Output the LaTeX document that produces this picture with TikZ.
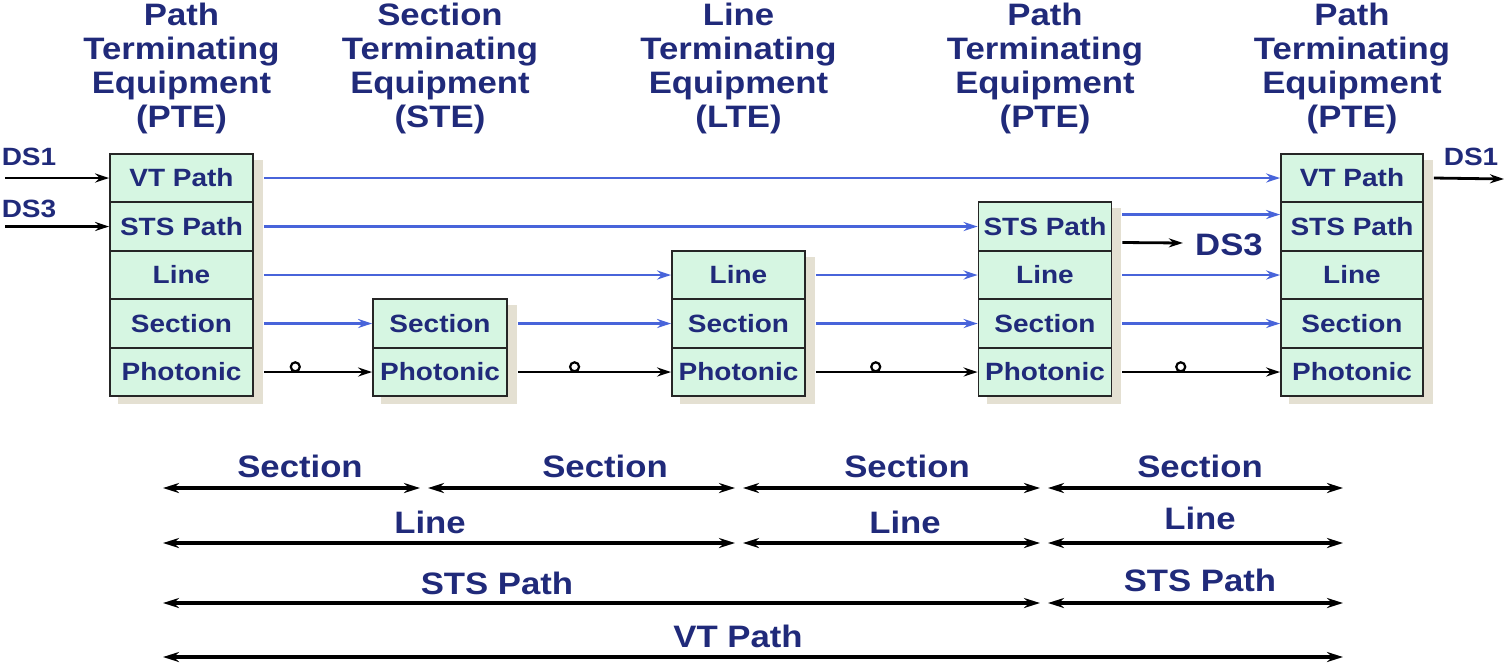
\documentclass[tikz,border=0pt]{standalone}
\usepackage{fontspec}
\setmainfont{Liberation Sans}[FakeStretch=1.12]
\usetikzlibrary{arrows.meta,backgrounds}
\definecolor{navy}{RGB}{32,42,122}
\definecolor{mint}{RGB}{214,246,226}
\definecolor{lineblue}{RGB}{72,100,218}
\definecolor{shadowc}{RGB}{228,224,210}
\begin{document}
\begin{tikzpicture}[x=0.5pt,y=-0.5pt,
 layer/.style={draw=black!85, line width=0.9pt, fill=mint, minimum height=24.25pt, inner sep=0pt, text=navy, font=\bfseries\fontsize{12.5}{14}\selectfont},
 title/.style={align=center, text=navy, font=\bfseries\fontsize{15.5}{17}\selectfont},
 lbl/.style={text=navy, font=\bfseries\fontsize{15.5}{17}\selectfont},
 dslbl/.style={text=navy, inner sep=2pt, font=\bfseries\fontsize{12.5}{14}\selectfont},
 blu/.style={draw=lineblue, line width=1.4pt, -{Stealth[length=7pt,width=4.5pt]}},
 blk/.style={draw=black, line width=1.4pt, -{Stealth[length=7pt,width=4.5pt]}},
 span/.style={draw=black, line width=1.6pt, {Stealth[length=8pt,width=5pt]}-{Stealth[length=8pt,width=5pt]}},
 ring/.style={circle, draw=black, line width=1.1pt, fill=white, inner sep=0pt, minimum size=4.5pt}
]
\useasboundingbox (0,0) rectangle (1504,666);

% titles
\node[title] (t1) at (181.5,68) {Path\\Terminating\\Equipment\\(PTE)};
\node[title] (t2) at (440,68) {Section\\Terminating\\Equipment\\(STE)};
\node[title] (t3) at (738.5,68) {Line\\Terminating\\Equipment\\(LTE)};
\node[title] (t4) at (1045,68) {Path\\Terminating\\Equipment\\(PTE)};
\node[title] (t5) at (1352,68) {Path\\Terminating\\Equipment\\(PTE)};

% box 1
\node[layer, minimum width=71.5pt] (a1) at (181.5,178) {VT Path};
\node[layer, minimum width=71.5pt] (a2) at (181.5,226.5) {STS Path};
\node[layer, minimum width=71.5pt] (a3) at (181.5,275) {Line};
\node[layer, minimum width=71.5pt] (a4) at (181.5,323.5) {Section};
\node[layer, minimum width=71.5pt] (a5) at (181.5,372) {Photonic};
% box 2
\node[layer, minimum width=67pt] (b4) at (440,323.5) {Section};
\node[layer, minimum width=67pt] (b5) at (440,372) {Photonic};
% box 3
\node[layer, minimum width=66.5pt] (c3) at (738.5,275) {Line};
\node[layer, minimum width=66.5pt] (c4) at (738.5,323.5) {Section};
\node[layer, minimum width=66.5pt] (c5) at (738.5,372) {Photonic};
% box 4
\node[layer, minimum width=66.5pt] (d2) at (1045,226.5) {STS Path};
\node[layer, minimum width=66.5pt] (d3) at (1045,275) {Line};
\node[layer, minimum width=66.5pt] (d4) at (1045,323.5) {Section};
\node[layer, minimum width=66.5pt] (d5) at (1045,372) {Photonic};
% box 5
\node[layer, minimum width=71pt] (e1) at (1352,178) {VT Path};
\node[layer, minimum width=71pt] (e2) at (1352,226.5) {STS Path};
\node[layer, minimum width=71pt] (e3) at (1352,275) {Line};
\node[layer, minimum width=71pt] (e4) at (1352,323.5) {Section};
\node[layer, minimum width=71pt] (e5) at (1352,372) {Photonic};

\begin{scope}[on background layer]
\fill[shadowc] ([shift={(9,7)}]a1.north west) rectangle ([shift={(9,7)}]a5.south east);
\fill[shadowc] ([shift={(9,7)}]b4.north west) rectangle ([shift={(9,7)}]b5.south east);
\fill[shadowc] ([shift={(9,7)}]c3.north west) rectangle ([shift={(9,7)}]c5.south east);
\fill[shadowc] ([shift={(9,7)}]d2.north west) rectangle ([shift={(9,7)}]d5.south east);
\fill[shadowc] ([shift={(9,7)}]e1.north west) rectangle ([shift={(9,7)}]e5.south east);
\end{scope}

% inputs / outputs
\node[dslbl] (ds1i) at (29,157) {DS1};
\node[dslbl] (ds3i) at (29,209) {DS3};
\coordinate (in1) at (5,178);
\coordinate (in3) at (5,226.5);
\draw[blk] (in1) -- (a1.west);
\draw[blk] (in3) -- (a2.west);
\node[dslbl] (ds1o) at (1471,157) {DS1};
\coordinate (out1) at (1504,179);
\draw[blk] ([xshift=5pt]e1.east) -- (out1);
\node[lbl, inner sep=2pt] (ds3o) at (1229,245) {DS3};
\draw[blk] ([xshift=5pt,yshift=-8pt]d2.east) -- ([xshift=-4pt,yshift=1pt]ds3o.west);

% blue layer arrows
\draw[blu] ([xshift=5pt]a1.east) -- (e1.west);
\draw[blu] ([xshift=5pt]a2.east) -- (d2.west);
\draw[blu] ([xshift=5pt,yshift=6pt]d2.east) -- ([yshift=6pt]e2.west);
\draw[blu] ([xshift=5pt]a3.east) -- (c3.west);
\draw[blu] ([xshift=5pt]c3.east) -- (d3.west);
\draw[blu] ([xshift=5pt]d3.east) -- (e3.west);
\draw[blu] ([xshift=5pt]a4.east) -- (b4.west);
\draw[blu] ([xshift=5pt]b4.east) -- (c4.west);
\draw[blu] ([xshift=5pt]c4.east) -- (d4.west);
\draw[blu] ([xshift=5pt]d4.east) -- (e4.west);

% photonic
\draw[blk] ([xshift=5pt]a5.east) -- node[ring, pos=0.29, yshift=2.6pt] (r1) {} (b5.west);
\draw[blk] ([xshift=5pt]b5.east) -- node[ring, pos=0.37, yshift=2.6pt] (r2) {} (c5.west);
\draw[blk] ([xshift=5pt]c5.east) -- node[ring, pos=0.37, yshift=2.6pt] (r3) {} (d5.west);
\draw[blk] ([xshift=5pt]d5.east) -- node[ring, pos=0.37, yshift=2.6pt] (r4) {} (e5.west);

% spans
\foreach \l/\y in {1/488,2/543,3/603,4/657}{
  \foreach \i/\x in {0/163,1/424,2/739,3/1044,4/1343}{
    \coordinate (m\l\i) at (\x,\y);
  }
}
\draw[span] (m10) -- ([xshift=-2pt]m11);
\draw[span] ([xshift=2pt]m11) -- ([xshift=-2pt]m12);
\draw[span] ([xshift=2pt]m12) -- ([xshift=-2pt]m13);
\draw[span] ([xshift=2pt]m13) -- (m14);
\draw[span] (m20) -- ([xshift=-2pt]m22);
\draw[span] ([xshift=2pt]m22) -- ([xshift=-2pt]m23);
\draw[span] ([xshift=2pt]m23) -- (m24);
\draw[span] (m30) -- ([xshift=-2pt]m33);
\draw[span] ([xshift=2pt]m33) -- (m34);
\draw[span] (m40) -- (m44);

\node[lbl] (ls1) at (300,466) {Section};
\node[lbl] (ls2) at (605,466) {Section};
\node[lbl] (ls3) at (907,466) {Section};
\node[lbl] (ls4) at (1200,466) {Section};
\node[lbl] (ll1) at (430,522) {Line};
\node[lbl] (ll2) at (905,522) {Line};
\node[lbl] (ll3) at (1200,518) {Line};
\node[lbl] (lp1) at (497,583) {STS Path};
\node[lbl] (lp2) at (1200,580) {STS Path};
\node[lbl] (lv) at (738,636) {VT Path};
\end{tikzpicture}
\end{document}
